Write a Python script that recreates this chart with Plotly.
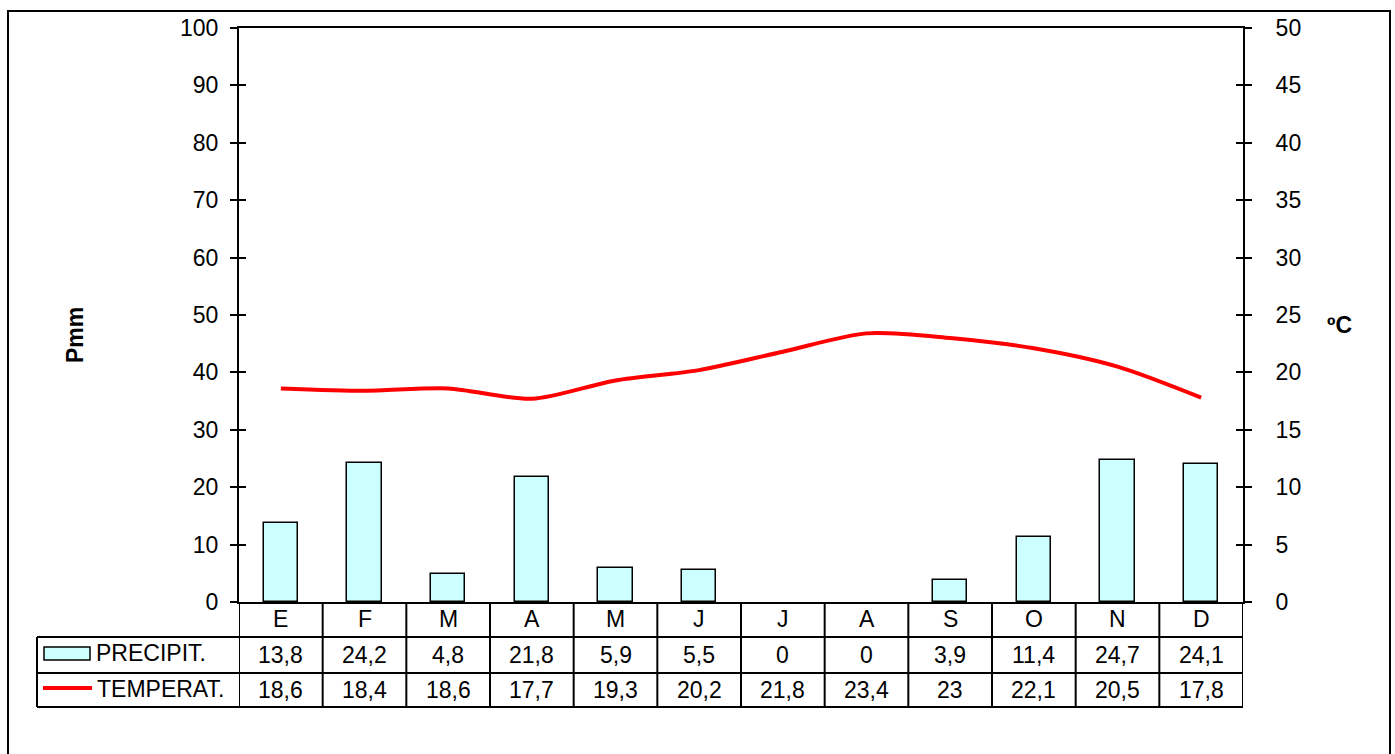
import plotly.graph_objects as go

# Climograph data (monthly)
months = ["E", "F", "M", "A", "M", "J", "J", "A", "S", "O", "N", "D"]
precip = [13.8, 24.2, 4.8, 21.8, 5.9, 5.5, 0, 0, 3.9, 11.4, 24.7, 24.1]
temp = [18.6, 18.4, 18.6, 17.7, 19.3, 20.2, 21.8, 23.4, 23, 22.1, 20.5, 17.8]
precip_ticks = list(range(0, 101, 10))
temp_ticks = list(range(0, 51, 5))

W, H = 1395, 754
FONT = "Liberation Sans, Arial, sans-serif"
BAR_COLOR = "#CCFFFF"
LINE_COLOR = "#FF0000"


def px(x):
    return x / W


def py(y):
    return 1 - y / H


def fmt(v):
    return f"{v:g}".replace(".", ",")


xpos = list(range(len(months)))

fig = go.Figure()
fig.add_trace(go.Bar(x=xpos, y=precip, width=0.41,
                     marker=dict(color=BAR_COLOR, line=dict(color="black", width=[0 if v == 0 else 1.5 for v in precip])),
                     name="PRECIPIT.", yaxis="y"))
fig.add_trace(go.Scatter(x=xpos, y=temp, mode="lines", line=dict(color=LINE_COLOR, width=4, shape="spline", smoothing=0.8),
                         name="TEMPERAT.", yaxis="y2"))

x_dom = [px(239), px(1243)]
y_dom = [py(602), py(28)]
tickfont = dict(family=FONT, size=23, color="black")

common_y = dict(domain=y_dom, showgrid=False, zeroline=False, showline=True, linecolor="black", linewidth=2,
                tickcolor="black", tickwidth=2, ticklen=7, automargin=False, fixedrange=True)

fig.update_layout(
    template="none",
    width=W, height=H,
    margin=dict(l=0, r=0, t=0, b=0, pad=0),
    paper_bgcolor="white", plot_bgcolor="white",
    showlegend=False,
    bargap=0,
    xaxis=dict(domain=x_dom, range=[-0.5, 11.5], showgrid=False, zeroline=False, showticklabels=False,
               ticks="", showline=True, mirror=True, linecolor="black", linewidth=2, fixedrange=True,
               automargin=False),
    yaxis=dict(**common_y, range=[0, 100], tickvals=precip_ticks, ticks="outside", side="left",
               tickfont=tickfont, ticklabelstandoff=7, anchor="x"),
    yaxis2=dict(**common_y, range=[0, 50], tickvals=temp_ticks, ticks="outside", side="right",
                overlaying="y", tickfont=tickfont, ticklabelstandoff=19, anchor="x"),
    yaxis3=dict(**common_y, range=[0, 100], tickvals=precip_ticks, ticks="inside", side="left",
                overlaying="y", showticklabels=False, anchor="x"),
    yaxis4=dict(**common_y, range=[0, 50], tickvals=temp_ticks, ticks="inside", side="right",
                overlaying="y", showticklabels=False, anchor="x"),
)
# dummy traces so the inner-tick axes get drawn
fig.add_trace(go.Scatter(x=[None], y=[None], yaxis="y3", showlegend=False, hoverinfo="skip"))
fig.add_trace(go.Scatter(x=[None], y=[None], yaxis="y4", showlegend=False, hoverinfo="skip"))

shapes = []
line_style = dict(color="black", width=2)
# outer chart border
shapes.append(dict(type="rect", xref="paper", yref="paper", x0=px(8), x1=px(1390), y0=py(11), y1=-0.02,
                   line=line_style, layer="below"))

# data table
row_lines = [637, 673, 707]
for ry in row_lines:
    shapes.append(dict(type="line", xref="paper", yref="paper", x0=px(37), x1=x_dom[1], y0=py(ry), y1=py(ry),
                       line=line_style))
shapes.append(dict(type="line", xref="paper", yref="paper", x0=px(37), x1=px(37), y0=py(637), y1=py(707),
                   line=line_style))
for i in range(len(months) + 1):
    shapes.append(dict(type="line", xref="x", yref="paper", x0=i - 0.5, x1=i - 0.5, y0=py(602), y1=py(707),
                       line=line_style))

# legend keys inside the table
shapes.append(dict(type="rect", xref="paper", yref="paper", x0=px(44), x1=px(90), y0=py(660), y1=py(647),
                   fillcolor=BAR_COLOR, line=dict(color="black", width=1.5)))
shapes.append(dict(type="line", xref="paper", yref="paper", x0=px(43), x1=px(92), y0=py(688), y1=py(688),
                   line=dict(color=LINE_COLOR, width=4)))

annotations = []
tfont = dict(family=FONT, size=23, color="black")
rows_y = [619, 655, 690]
for i, m in enumerate(months):
    annotations.append(dict(x=i, y=py(rows_y[0]), xref="x", yref="paper", text=m, showarrow=False, font=tfont,
                            yanchor="middle"))
    annotations.append(dict(x=i, y=py(rows_y[1]), xref="x", yref="paper", text=fmt(precip[i]), showarrow=False,
                            font=tfont, yanchor="middle"))
    annotations.append(dict(x=i, y=py(rows_y[2]), xref="x", yref="paper", text=fmt(temp[i]), showarrow=False,
                            font=tfont, yanchor="middle"))

annotations.append(dict(x=px(94), y=py(653), xref="paper", yref="paper", text="PRECIPIT.", showarrow=False,
                        xanchor="left", yanchor="middle", font=tfont))
annotations.append(dict(x=px(95), y=py(689), xref="paper", yref="paper", text="TEMPERAT.", showarrow=False,
                        xanchor="left", yanchor="middle", font=tfont))

# axis titles
annotations.append(dict(x=px(60), y=py(335), xref="paper", yref="paper", text="<b>Pmm</b>", textangle=-90,
                        showarrow=False, font=dict(family=FONT, size=23, color="black")))
annotations.append(dict(x=px(1354), y=py(325), xref="paper", yref="paper", text="<b>ºC</b>",
                        showarrow=False, font=dict(family=FONT, size=23, color="black")))

fig.update_layout(shapes=shapes, annotations=annotations)

fig.write_html("out.html", config=dict(displayModeBar=False),
               post_script="document.body.style.margin='0';document.body.style.overflow='hidden';")
